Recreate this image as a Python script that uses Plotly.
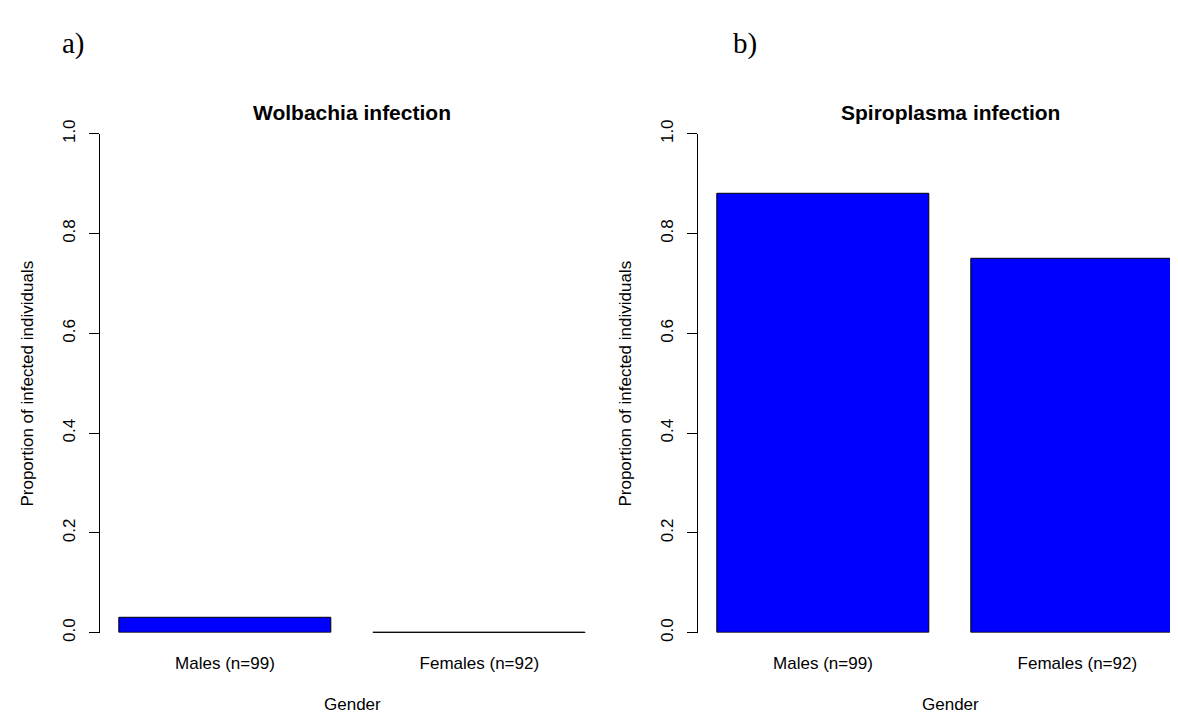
import plotly.graph_objects as go

# ---- data ----
categories = ["Males (n=99)", "Females (n=92)"]
wolbachia = [3 / 99, 0.0]
spiroplasma = [87 / 99, 69 / 92]
panel_titles = ["Wolbachia infection", "Spiroplasma infection"]
panel_tags = ["a)", "b)"]
y_ticks = [0.0, 0.2, 0.4, 0.6, 0.8, 1.0]
y_ticktext = ["0.0", "0.2", "0.4", "0.6", "0.8", "1.0"]
x_label = "Gender"
y_label = "Proportion of infected individuals"

# ---- layout constants (R barplot style) ----
W, H = 1178, 717
BAR_W, SPACE = 1.0, 0.2
centers = [SPACE + BAR_W / 2 + i * (BAR_W + SPACE) for i in range(len(categories))]
PX_PER_UNIT = 212.0
x_lo = 0.112
x_span = 2.376          # R's 4%-extended x range width
left_x0 = 92.3
right_x0 = 690.3
y_bot_px, y_top_px = 631.0, 115.5

FONT = "Liberation Sans, Arial, Helvetica, sans-serif"
BLUE = "#0000FF"

fig = go.Figure()


def px2paper_x(px):
    return px / W


def px2paper_y(px):
    return (H - px) / H


panels = [wolbachia, spiroplasma]
x0s = [left_x0, right_x0]
for k, (vals, x0) in enumerate(zip(panels, x0s)):
    xa = "x" if k == 0 else "x2"
    ya = "y" if k == 0 else "y2"
    fig.add_trace(go.Bar(
        x=centers, y=vals, width=BAR_W,
        marker=dict(color=BLUE, line=dict(color="black", width=1)),
        xaxis=xa, yaxis=ya, showlegend=False, hoverinfo="skip",
    ))
    # zero-height bars: R still draws their outline as a flat line
    for c, v in zip(centers, vals):
        if v == 0:
            fig.add_trace(go.Scatter(
                x=[c - BAR_W / 2, c + BAR_W / 2], y=[v, v], mode="lines",
                line=dict(color="black", width=1.3), cliponaxis=False,
                xaxis=xa, yaxis=ya, showlegend=False, hoverinfo="skip",
            ))
    full_x1 = x0 + x_span * PX_PER_UNIT
    x1_px = min(W, full_x1)
    x_hi = x_lo + (x1_px - x0) / PX_PER_UNIT
    xdom = [px2paper_x(x0), px2paper_x(x1_px)]
    ydom = [px2paper_y(y_bot_px), px2paper_y(y_top_px)]
    xkey = "xaxis" if k == 0 else "xaxis2"
    ykey = "yaxis" if k == 0 else "yaxis2"
    fig.update_layout(**{
        xkey: dict(domain=xdom, range=[x_lo, x_hi], showline=False, showgrid=False,
                   zeroline=False, ticks="", tickvals=centers, ticktext=categories,
                   tickfont=dict(family=FONT, size=17, color="black"),
                   ticklabelstandoff=18, anchor=ya, fixedrange=True),
        ykey: dict(domain=ydom, range=[0, 1], showline=True, linecolor="black",
                   linewidth=1, showgrid=False, zeroline=False, ticks="outside",
                   ticklen=10, tickwidth=1, tickcolor="black",
                   tickvals=y_ticks, ticktext=y_ticktext, tickangle=-90,
                   tickfont=dict(family=FONT, size=17, color="black"),
                   ticklabelstandoff=8, anchor=xa, fixedrange=True),
    })
    cx = px2paper_x((x0 + full_x1) / 2)
    # panel title
    fig.add_annotation(text="<b>" + panel_titles[k] + "</b>", x=cx, y=px2paper_y(94),
                       xref="paper", yref="paper", showarrow=False,
                       font=dict(family=FONT, size=21, color="black"),
                       xanchor="center", yanchor="middle")
    # x-axis label
    fig.add_annotation(text=x_label, x=cx, y=px2paper_y(705),
                       xref="paper", yref="paper", showarrow=False,
                       font=dict(family=FONT, size=17, color="black"),
                       xanchor="center", yanchor="middle")
    # y-axis label
    fig.add_annotation(text=y_label, x=px2paper_x(x0 - 73), y=px2paper_y((y_bot_px + y_top_px) / 2),
                       xref="paper", yref="paper", showarrow=False, textangle=-90,
                       font=dict(family=FONT, size=17, color="black"),
                       xanchor="center", yanchor="middle")

# panel tags a) b)
tag_x = [65, 737]
for t, tx in zip(panel_tags, tag_x):
    fig.add_annotation(text=t, x=px2paper_x(tx), y=px2paper_y(22), xref="paper", yref="paper",
                       showarrow=False, font=dict(family="Liberation Serif, Times New Roman, serif",
                                                  size=29, color="black"),
                       xanchor="center", yanchor="middle")

fig.update_layout(width=W, height=H, margin=dict(l=0, r=0, t=0, b=0),
                  paper_bgcolor="white", plot_bgcolor="white", bargap=0,
                  showlegend=False)

fig.write_html("out.html")
